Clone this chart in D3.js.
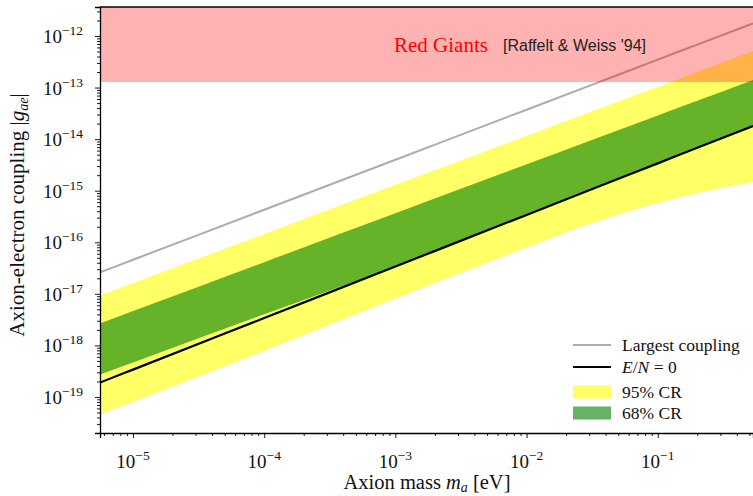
<!DOCTYPE html>
<html>
<head>
<meta charset="utf-8">
<script src="https://cdn.jsdelivr.net/npm/d3@7"></script>
<style>
  body { margin: 0; background: #fff; }
  svg { display: block; }
  .serif { font-family: "Liberation Serif", "DejaVu Serif", serif; }
</style>
</head>
<body>
<script>
// Axion mass grid (eV)
const masses = [5.6e-6, 1e-5, 1e-4, 1e-3, 1e-2, 3e-2, 1e-1, 2e-1, 0.532];

// Coupling curves |g_ae| on the mass grid
const largestCoupling = [2.61e-17, 4.58e-17, 4.28e-16, 3.99e-15, 3.72e-14, 1.08e-13, 3.48e-13, 6.81e-13, 1.76e-12];
const enZero          = [1.90e-19, 3.39e-19, 3.39e-18, 3.39e-17, 3.39e-16, 1.02e-15, 3.39e-15, 6.78e-15, 1.80e-14];
const cr68Upper       = [2.67e-18, 4.63e-18, 4.11e-17, 3.65e-16, 3.24e-15, 9.16e-15, 2.87e-14, 5.54e-14, 1.40e-13];
const cr68Lower       = [2.72e-19, 4.67e-19, 4.01e-18, 3.39e-17, 3.39e-16, 1.02e-15, 3.39e-15, 6.78e-15, 1.80e-14];
const cr95Upper       = [9.33e-18, 1.62e-17, 1.45e-16, 1.30e-15, 1.16e-14, 3.31e-14, 1.04e-13, 2.01e-13, 5.12e-13];
const cr95Lower       = [4.62e-20, 8.10e-20, 7.90e-19, 8.10e-18, 7.90e-17, 2.25e-16, 5.80e-16, 9.06e-16, 1.48e-15];

// Red giant bound
const redGiantLimit = 1.28e-13;

// Axis ranges and tick exponents
const xDomain = [5.6e-6, 0.532];
const yDomain = [2.0e-20, 3.65e-12];
const xTickExps = [-5, -4, -3, -2, -1];
const yTickExps = [-19, -18, -17, -16, -15, -14, -13, -12];

const legendItems = [
  { kind: "line", label: "Largest coupling" },
  { kind: "line", label: "E/N = 0" },
  { kind: "patch", label: "95% CR" },
  { kind: "patch", label: "68% CR" }
];

const W = 753, H = 496;
const plot = { left: 100, right: 753, top: 7, bottom: 433 };

const svg = d3.select("body").append("svg").attr("width", W).attr("height", H);

const x = d3.scaleLog().domain(xDomain).range([plot.left, plot.right]);
const y = d3.scaleLog().domain(yDomain).range([plot.bottom, plot.top]);

svg.append("clipPath").attr("id", "plotClip")
  .append("rect")
  .attr("x", plot.left).attr("y", plot.top)
  .attr("width", plot.right - plot.left).attr("height", plot.bottom - plot.top);

const g = svg.append("g").attr("clip-path", "url(#plotClip)");

const rows = masses.map((m, i) => ({
  m, big: largestCoupling[i], en: enZero[i],
  u68: cr68Upper[i], l68: cr68Lower[i], u95: cr95Upper[i], l95: cr95Lower[i]
}));

const curve = d3.curveMonotoneX;

// 95% band
g.append("path")
  .datum(rows)
  .attr("d", d3.area().curve(curve).x(d => x(d.m)).y0(d => y(d.l95)).y1(d => y(d.u95)))
  .attr("fill", "yellow").attr("fill-opacity", 0.6);

// 68% band
g.append("path")
  .datum(rows)
  .attr("d", d3.area().curve(curve).x(d => x(d.m)).y0(d => y(d.l68)).y1(d => y(d.u68)))
  .attr("fill", "green").attr("fill-opacity", 0.6);

// Largest coupling
g.append("path")
  .datum(rows)
  .attr("d", d3.line().curve(curve).x(d => x(d.m)).y(d => y(d.big)))
  .attr("fill", "none").attr("stroke", "#808080").attr("stroke-opacity", 0.65).attr("stroke-width", 2);

// E/N = 0
g.append("path")
  .datum(rows)
  .attr("d", d3.line().curve(curve).x(d => x(d.m)).y(d => y(d.en)))
  .attr("fill", "none").attr("stroke", "#000").attr("stroke-width", 2.2);

// Red giant excluded region
g.append("rect")
  .attr("x", plot.left).attr("width", plot.right - plot.left)
  .attr("y", y(yDomain[1])).attr("height", y(redGiantLimit) - y(yDomain[1]))
  .attr("fill", "red").attr("fill-opacity", 0.3);

svg.append("text").attr("x", 394).attr("y", 52)
  .attr("class", "serif").attr("font-size", 21).attr("fill", "#ff0000")
  .text("Red Giants");
svg.append("text").attr("x", 503).attr("y", 51)
  .attr("font-family", "'Liberation Sans', Arial, sans-serif")
  .attr("font-size", 16).attr("fill", "#222")
  .text("[Raffelt & Weiss '94]");

// Axes
const xAxis = d3.axisBottom(x)
  .tickValues(xTickExps.map(e => Math.pow(10, e)))
  .tickSize(5).tickFormat("");
const yAxis = d3.axisLeft(y)
  .tickValues(yTickExps.map(e => Math.pow(10, e)))
  .tickSize(5).tickFormat("");

function minorTicks(domain) {
  const out = [];
  const lo = Math.floor(Math.log10(domain[0])), hi = Math.ceil(Math.log10(domain[1]));
  for (let e = lo; e <= hi; e++) {
    for (let k = 2; k <= 9; k++) {
      const v = k * Math.pow(10, e);
      if (v >= domain[0] && v <= domain[1]) out.push(v);
    }
  }
  return out;
}

const xg = svg.append("g").attr("transform", `translate(0,${plot.bottom})`).call(xAxis);
const yg = svg.append("g").attr("transform", `translate(${plot.left},0)`).call(yAxis);
svg.append("g").attr("transform", `translate(0,${plot.bottom})`)
  .call(d3.axisBottom(x).tickValues(minorTicks(xDomain)).tickSize(3).tickFormat(""))
  .select(".domain").remove();
svg.append("g").attr("transform", `translate(${plot.left},0)`)
  .call(d3.axisLeft(y).tickValues(minorTicks(yDomain)).tickSize(3).tickFormat(""))
  .select(".domain").remove();
svg.selectAll(".tick line").attr("stroke", "#000").attr("stroke-width", 0.9);
xg.select(".domain").attr("stroke", "#000").attr("stroke-width", 1.3);
yg.select(".domain").attr("stroke", "#000").attr("stroke-width", 1.3);
// top spine
svg.append("line")
  .attr("x1", plot.left).attr("x2", plot.right)
  .attr("y1", plot.top).attr("y2", plot.top)
  .attr("stroke", "#000").attr("stroke-width", 1.3);

// Tick labels 10^n
xTickExps.forEach(e => {
  const t = svg.append("text").attr("class", "serif")
    .attr("x", x(Math.pow(10, e))).attr("y", 468)
    .attr("text-anchor", "middle").attr("font-size", 19).attr("fill", "#111");
  t.append("tspan").text("10");
  t.append("tspan").attr("dy", -8).attr("font-size", 13.5).text("\u2212" + Math.abs(e));
});
yTickExps.forEach(e => {
  const t = svg.append("text").attr("class", "serif")
    .attr("x", 83).attr("y", y(Math.pow(10, e)) + 7)
    .attr("text-anchor", "end").attr("font-size", 19).attr("fill", "#111");
  t.append("tspan").text("10");
  t.append("tspan").attr("dy", -8).attr("font-size", 13.5).text("\u2212" + Math.abs(e));
});

// Axis titles
const xl = svg.append("text").attr("class", "serif")
  .attr("x", 427).attr("y", 489).attr("text-anchor", "middle")
  .attr("font-size", 20.5).attr("fill", "#111");
xl.append("tspan").text("Axion mass ");
xl.append("tspan").attr("font-style", "italic").text("m");
xl.append("tspan").attr("font-style", "italic").attr("font-size", 14).attr("dy", 3).text("a");
xl.append("tspan").attr("dy", -3).text(" [eV]");

const yl = svg.append("text").attr("class", "serif")
  .attr("transform", "translate(24,215) rotate(-90)").attr("text-anchor", "middle")
  .attr("font-size", 21).attr("fill", "#111");
yl.append("tspan").text("Axion-electron coupling |");
yl.append("tspan").attr("font-style", "italic").text("g");
yl.append("tspan").attr("font-style", "italic").attr("font-size", 14).attr("dy", 4).text("ae");
yl.append("tspan").attr("dy", -4).text("|");

// Legend
const legendY = [345, 367, 392, 413];
const legendStyles = [
  { stroke: "#808080", opacity: 0.65 },
  { stroke: "#000", opacity: 1 },
  { fill: "yellow" },
  { fill: "green" }
];
const lg = svg.append("g");
legendItems.forEach((item, i) => {
  const cy = legendY[i];
  const st = legendStyles[i];
  if (item.kind === "line") {
    lg.append("line").attr("x1", 573).attr("x2", 611).attr("y1", cy).attr("y2", cy)
      .attr("stroke", st.stroke).attr("stroke-opacity", st.opacity).attr("stroke-width", 2.2);
  } else {
    lg.append("rect").attr("x", 573).attr("y", cy - 6.5).attr("width", 38).attr("height", 13)
      .attr("fill", st.fill).attr("fill-opacity", 0.6);
  }
  const t = lg.append("text").attr("class", "serif")
    .attr("x", 622).attr("y", cy + 5.5).attr("font-size", 17.5).attr("fill", "#111");
  if (item.label === "E/N = 0") {
    t.append("tspan").attr("font-style", "italic").text("E");
    t.append("tspan").text("/");
    t.append("tspan").attr("font-style", "italic").text("N");
    t.append("tspan").text(" = 0");
  } else {
    t.text(item.label);
  }
});
</script>
</body>
</html>
